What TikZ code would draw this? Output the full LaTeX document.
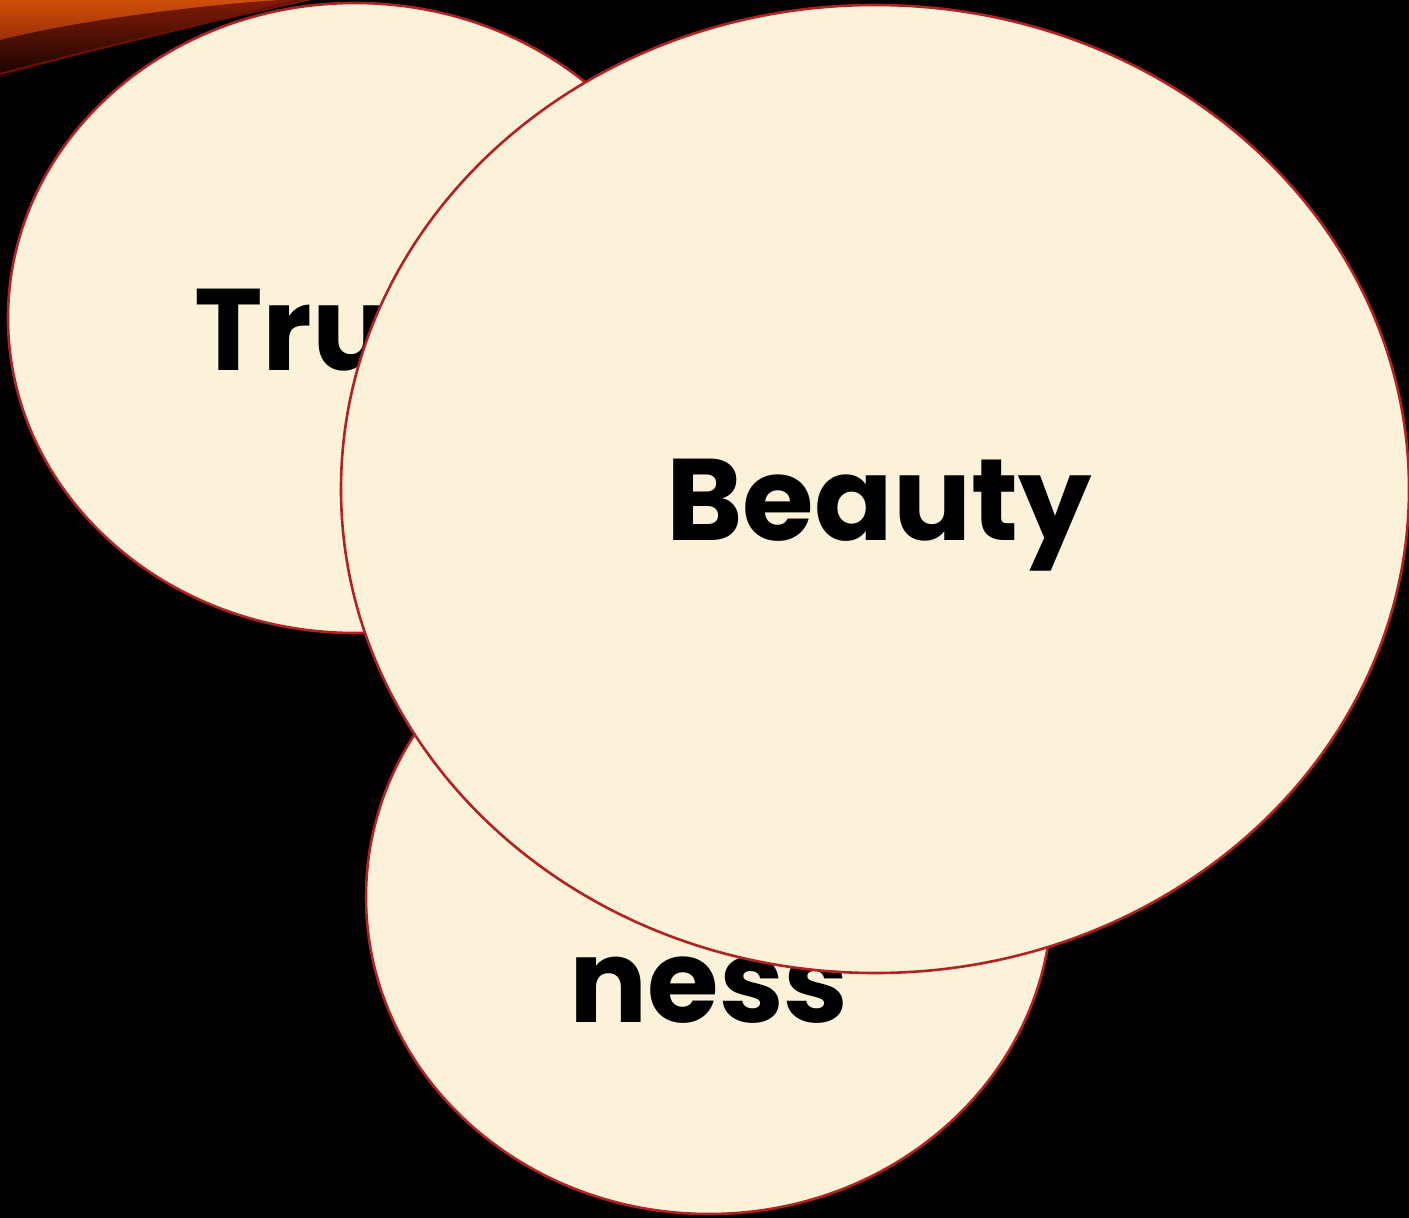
\documentclass[tikz,border=0pt]{standalone}
\usepackage{fontspec}
\setmainfont{Poppins}
\usetikzlibrary{shapes.geometric}
\definecolor{cream}{RGB}{252,242,217}
\definecolor{rim}{RGB}{178,34,34}
\definecolor{streakA}{RGB}{205,80,10}
\definecolor{streakB}{RGB}{110,15,5}
\begin{document}
\begin{tikzpicture}[x=1pt,y=-1pt,
  bubble/.style={ellipse,draw=rim,fill=cream,line width=2.6pt,inner sep=0pt},
  label/.style={font=\fontsize{116}{155}\selectfont\bfseries,text=black,align=center,inner sep=0pt}]
\useasboundingbox (0,0) rectangle (1409,1218);
\fill[black] (0,0) rectangle (1409,1218);
% top-left streak
\shade[top color=streakA,bottom color=streakB]
  (0,0) -- (310,0) .. controls (200,25) and (80,50) .. (0,78) -- cycle;
\shade[top color=streakB,bottom color=black,opacity=0.8]
  (0,40) .. controls (80,20) and (200,5) .. (280,0) -- (310,0) .. controls (200,25) and (80,50) .. (0,78) -- cycle;
\draw[streakB,line width=2pt] (0,74) .. controls (90,50) and (200,25) .. (300,0);
% ellipses
\node[bubble,minimum width=694pt,minimum height=630pt] (truth) at (355,318) {};
\node[label,anchor=base] (truthtxt) at (355,370) {Truth};
\node[bubble,minimum width=686pt,minimum height=634pt] (good) at (709,897) {};
\node[label] (goodtxt) at (709,903) {Good\\ness};
\node[bubble,minimum width=1068pt,minimum height=968pt] (beauty) at (875,489) {};
\node[label,anchor=base] (beautytxt) at (879,540) {Beauty};
\end{tikzpicture}
\end{document}
